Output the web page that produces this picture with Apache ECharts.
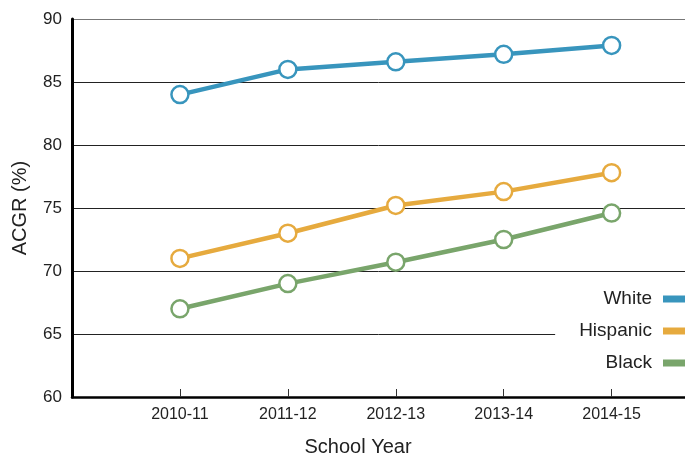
<!DOCTYPE html>
<html><head><meta charset="utf-8">
<script src="https://cdn.jsdelivr.net/npm/echarts@6/dist/echarts.min.js"></script>
<style>html,body{margin:0;padding:0;background:#fff}#c{width:685px;height:455px}</style>
</head><body><div id="c"></div>
<script>
const categories = ['2010-11','2011-12','2012-13','2013-14','2014-15'];
const white = [84.0, 86.0, 86.6, 87.2, 87.9];
const hispanic = [71.0, 73.0, 75.2, 76.3, 77.8];
const black = [67.0, 69.0, 70.7, 72.5, 74.6];
const yTicks = [60, 65, 70, 75, 80, 85, 90];
const colors = {White:'#3895bd', Hispanic:'#e6aa3e', Black:'#79a56b'};
const font = 'Liberation Sans, Helvetica, Arial, sans-serif';

const idx = categories.map((c,i)=>i);
function pts(arr){ return arr.map((v,i)=>[i,v]); }
function mk(name, arr){
  return {
    name, type:'line', data: pts(arr),
    symbol:'circle', symbolSize:17,
    lineStyle:{color:colors[name], width:4.5},
    itemStyle:{color:'#fff', borderColor:colors[name], borderWidth:2.5},
    emphasis:{disabled:true}, z:3
  };
}
const chart = echarts.init(document.getElementById('c'));
chart.setOption({
  animation:false,
  grid:{left:72, top:19, right:0, bottom:58, outerBoundsMode:'none', containLabel:false},
  xAxis:{
    type:'value', min:-1, max:4.68,
    name:'School Year', nameLocation:'middle', nameGap:40,
    nameTextStyle:{fontFamily:font, fontSize:20, color:'#222', padding:[0,41,0,0]},
    axisLine:{onZero:false, lineStyle:{color:'#000', width:2.5}},
    axisTick:{show:true, inside:true, length:8, customValues:idx, lineStyle:{color:'#333', width:1}},
    axisLabel:{customValues:idx, formatter:v=>categories[v] ?? '', fontFamily:font, fontSize:16, color:'#222', margin:10},
    splitLine:{show:false}
  },
  yAxis:{
    type:'value', min:yTicks[0], max:yTicks[yTicks.length-1], interval:5,
    name:'ACGR (%)', nameLocation:'middle', nameGap:42,
    nameTextStyle:{fontFamily:font, fontSize:20, color:'#222'},
    axisLine:{show:true, onZero:false, lineStyle:{color:'#000', width:3}},
    axisTick:{show:false},
    axisLabel:{fontFamily:font, fontSize:17, color:'#222', margin:10},
    splitLine:{show:true, lineStyle:{color:['#222','#222','#222','#222','#222','#222','#777'], width:1}}
  },
  legend:{
    orient:'vertical', right:0, top:279, align:'right',
    backgroundColor:'#fff', padding:[10,0,10,24],
    itemWidth:22, itemHeight:7, itemGap:12, icon:'rect',
    textStyle:{fontFamily:font, fontSize:19, color:'#222', lineHeight:20, padding:[0,6,0,0]},
    data:['White','Hispanic','Black'].map(n=>({name:n, itemStyle:{color:colors[n], borderWidth:0}}))
  },
  series:[mk('White',white), mk('Hispanic',hispanic), mk('Black',black)]
});
</script></body></html>
